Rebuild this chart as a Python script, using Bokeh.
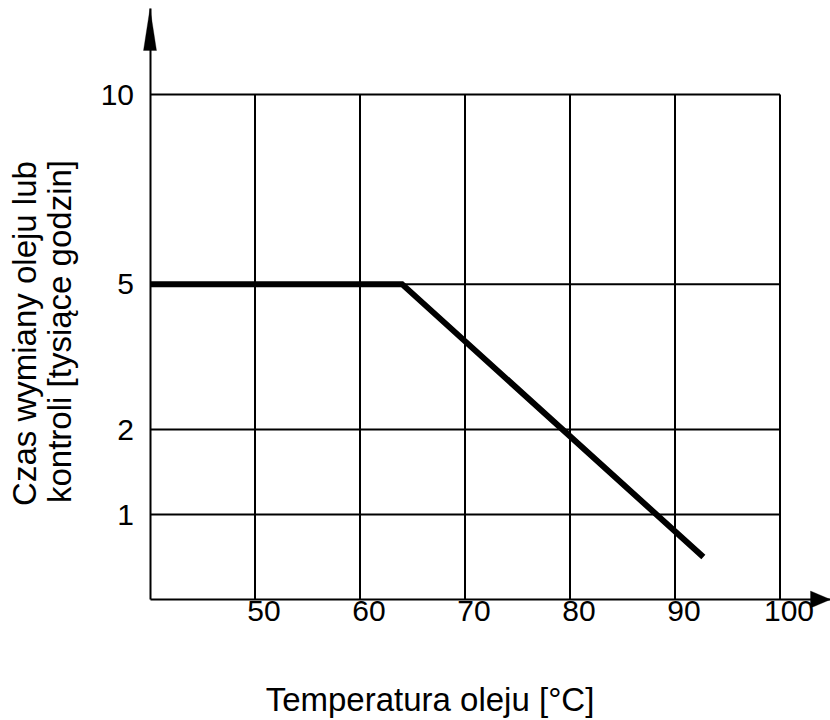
import numpy as np
from bokeh.plotting import figure
from bokeh.models import Range1d, LinearAxis, FixedTicker, Label, PolyAnnotation
from bokeh.embed import file_html
from bokeh.resources import INLINE

# ---------------- data ----------------
temp_c = [40, 64, 92.7]          # oil temperature [°C]
hours_k = [5, 5, 0.5]            # change/inspection interval [thousand hours]

x_ticks = [50, 60, 70, 80, 90, 100]
y_ticks = [1, 2, 5, 10]
y_tick_labels = ["1", "2", "5", "10"]

# non-uniform (schematic) scale of the y axis: value -> axis position
y_scale_values = [0, 1, 2, 5, 10]
y_scale_pos = [0, 1, 2, 3.71, 5.94]

x_title = "Temperatura oleju [°C]"
y_title_1 = "Czas wymiany oleju lub"
y_title_2 = "kontroli [tysiące godzin]"

# ---------------- layout ----------------
W, H = 830, 720
ORIGIN_PX = (149.5, 599)           # canvas pixel of (40 °C, 0)
PX_X, PX_Y = 10.5, 85.0            # pixels per data unit
XA, YA = 40.0, 0.0                 # where the axes cross
XS = XA - ORIGIN_PX[0] / PX_X
XE = XS + W / PX_X
YE = YA + ORIGIN_PX[1] / PX_Y
YS = YE - H / PX_Y
LABEL_SHIFT = 9 / PX_X             # x tick labels sit a little right of the grid lines
ARROW_TIP_TOP = 8 / PX_Y           # gap above the y arrow tip

TITLE_FONT = "Liberation Sans"
TICK_FONT = "Liberation Sans"


def ypos(v):
    return [float(t) for t in np.interp(v, y_scale_values, y_scale_pos)]


def page_x(px):
    return XS + px / PX_X


def page_y(py):
    return YE - py / PX_Y


y_tick_pos = ypos(y_ticks)
hours_pos = ypos(hours_k)
y_tip = YE - ARROW_TIP_TOP

p = figure(width=W, height=H, x_range=Range1d(XS, XE), y_range=Range1d(YS, YE),
           output_backend="svg", toolbar_location=None,
           x_axis_location=None, y_axis_location=None,
           min_border=0, min_border_left=0, min_border_right=0, min_border_top=0, min_border_bottom=0,
           outline_line_color=None, background_fill_color="white", border_fill_color="white")
for g in p.grid:
    g.visible = False

p.extra_x_ranges = {"lab": Range1d(XS - LABEL_SHIFT, XE - LABEL_SHIFT)}

xaxis = LinearAxis(x_range_name="lab", ticker=FixedTicker(ticks=x_ticks),
                   fixed_location=YA, bounds=(XA - LABEL_SHIFT, XE - LABEL_SHIFT),
                   axis_line_width=2, axis_line_color="black",
                   major_tick_out=0, major_tick_in=0, minor_tick_out=0, minor_tick_in=0,
                   major_label_standoff=1,
                   major_label_text_font=TICK_FONT, major_label_text_font_size="30px",
                   major_label_text_color="black")
p.add_layout(xaxis, "below")

yaxis = LinearAxis(ticker=FixedTicker(ticks=y_tick_pos),
                   fixed_location=XA, bounds=(YA, y_tip),
                   major_label_overrides={pos: lab for pos, lab in zip(y_tick_pos, y_tick_labels)},
                   axis_line_width=2, axis_line_color="black",
                   major_tick_out=0, major_tick_in=0, minor_tick_out=0, minor_tick_in=0,
                   major_label_standoff=16,
                   major_label_text_font=TICK_FONT, major_label_text_font_size="30px",
                   major_label_text_color="black")
p.add_layout(yaxis, "left")

# grid (box from 40..100 and 0..10)
top = max(y_tick_pos)
p.segment(x0=x_ticks, y0=[YA] * len(x_ticks), x1=x_ticks, y1=[top] * len(x_ticks),
          line_color="black", line_width=2)
p.segment(x0=[XA] * len(y_tick_pos), y0=y_tick_pos, x1=[max(x_ticks)] * len(y_tick_pos), y1=y_tick_pos,
          line_color="black", line_width=2)

# data line
p.line(temp_c, hours_pos, line_color="black", line_width=6, line_join="miter", line_cap="butt")

# axis arrow heads
up = PolyAnnotation(xs=[XA, XA - 6.5 / PX_X, XA + 6.5 / PX_X],
                    ys=[y_tip, y_tip - 42 / PX_Y, y_tip - 42 / PX_Y],
                    fill_color="black", fill_alpha=1, line_color="black", line_width=1)
right = PolyAnnotation(xs=[XE, XE - 20 / PX_X, XE - 20 / PX_X], ys=[YA, YA + 8.5 / PX_Y, YA - 8.5 / PX_Y],
                       fill_color="black", fill_alpha=1, line_color="black", line_width=1)
p.add_layout(up)
p.add_layout(right)

p.add_layout(Label(x=page_x(24), y=page_y(333), text=y_title_1, angle=np.pi / 2,
                   text_align="center", text_baseline="alphabetic",
                   text_font=TITLE_FONT, text_font_size="33px", text_color="black"))
p.add_layout(Label(x=page_x(59), y=page_y(331), text=y_title_2, angle=np.pi / 2,
                   text_align="center", text_baseline="alphabetic",
                   text_font=TITLE_FONT, text_font_size="33px", text_color="black"))
p.add_layout(Label(x=page_x(429.5), y=page_y(699), text=x_title,
                   text_align="center", text_baseline="alphabetic",
                   text_font=TITLE_FONT, text_font_size="33px", text_color="black"))

open("out.html", "w").write(file_html(p, INLINE))
